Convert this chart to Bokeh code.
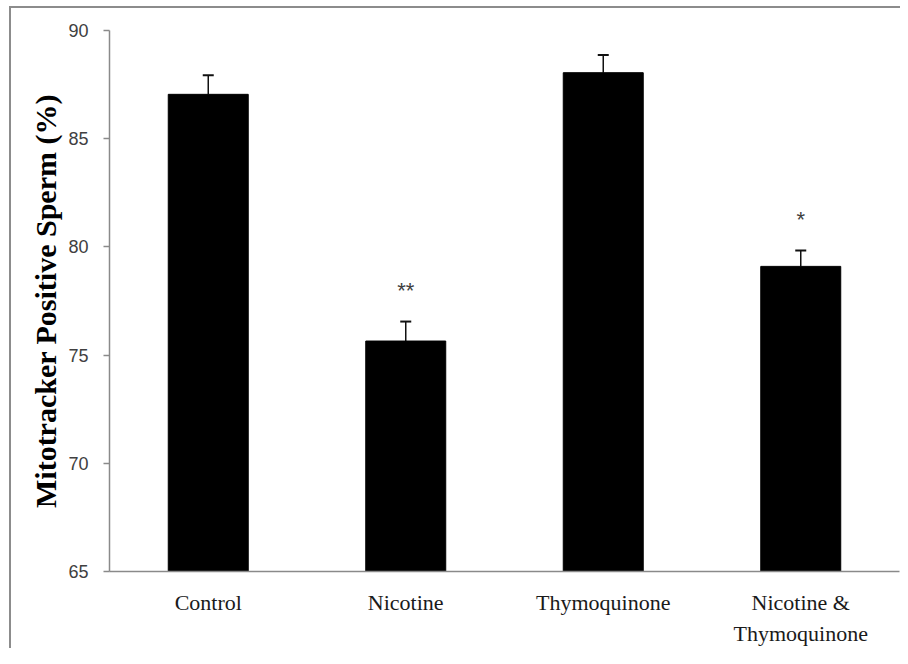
from bokeh.plotting import figure
from bokeh.models import ColumnDataSource, Range1d, FactorRange, Whisker, TeeHead
from bokeh.core.properties import value
from bokeh.embed import file_html
from bokeh.resources import INLINE

categories = ["Control", "Nicotine", "Thymoquinone", "Nicotine &\nThymoquinone"]
means = [87.05, 75.65, 88.05, 79.1]
errors = [0.88, 0.9, 0.82, 0.73]
stars = ["", "**", "", "*"]
y_ticks = [65, 70, 75, 80, 85, 90]

upper = [m + e for m, e in zip(means, errors)]
src = ColumnDataSource(data=dict(cat=categories, mean=means, upper=upper, stars=stars))

p = figure(width=900, height=648, output_backend="svg", toolbar_location=None,
           x_range=FactorRange(*categories), y_range=Range1d(65, 90),
           min_border_left=109, min_border_right=1, min_border_top=30, min_border_bottom=68)
p.outline_line_color = None
p.xgrid.grid_line_color = None
p.ygrid.grid_line_color = None
p.background_fill_color = "white"
p.border_fill_color = None
p.styles = {
    "background-color": "white",
    "background-image": "linear-gradient(#8c8c8c, #8c8c8c), linear-gradient(#8c8c8c, #8c8c8c)",
    "background-size": "2px 100%, 100% 2px",
    "background-position": "9px 6px, 9px 6px",
    "background-repeat": "no-repeat",
}

p.vbar(x="cat", top="mean", bottom=65, width=0.405, source=src,
       fill_color="black", line_color="black")

w = Whisker(base="cat", upper="upper", lower="mean", source=src,
            line_color="#111111", line_width=1.5,
            upper_head=TeeHead(size=11, line_color="#111111", line_width=2),
            lower_head=None)
p.add_layout(w)

p.text(x="cat", y="upper", text="stars", source=src, text_align="center",
       text_baseline="middle", y_offset=-31, text_font=value("Liberation Sans"),
       text_font_size="22px", text_color="#404040")

# y axis
yax = p.yaxis[0]
yax.ticker = y_ticks
yax.axis_line_color = "#8a8a8a"
yax.axis_line_width = 1.5
yax.major_tick_line_color = "#8a8a8a"
yax.major_tick_line_width = 1.5
yax.major_tick_out = 6
yax.major_tick_in = 0
yax.minor_tick_line_color = None
yax.major_label_text_font = "Liberation Sans"
yax.major_label_text_font_size = "18px"
yax.major_label_text_color = "#404040"
yax.major_label_standoff = 15
yax.axis_label = "Mitotracker Positive Sperm (%)"
yax.axis_label_text_font = "Liberation Serif"
yax.axis_label_text_font_style = "bold"
yax.axis_label_text_font_size = "30px"
yax.axis_label_text_color = "black"
yax.axis_label_standoff = 3

# x axis
xax = p.xaxis[0]
xax.axis_line_color = "#8a8a8a"
xax.axis_line_width = 1.5
xax.major_tick_line_color = None
xax.minor_tick_line_color = None
xax.major_label_text_font = "Liberation Serif"
xax.major_label_text_font_size = "22px"
xax.major_label_text_color = "#1a1a1a"
xax.major_label_standoff = 12
xax.major_label_text_line_height = 1.25

open("out.html", "w").write(file_html(p, INLINE))
